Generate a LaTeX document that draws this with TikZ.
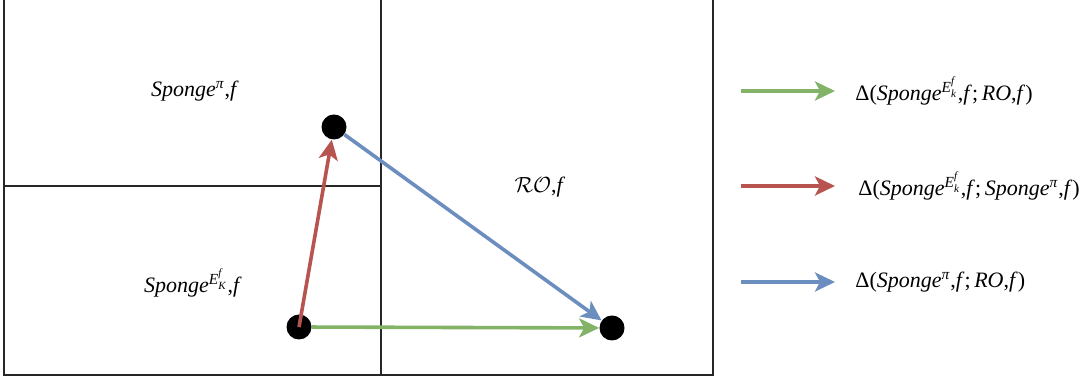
\documentclass[tikz,border=0pt]{standalone}
\usepackage{amsmath}
\usepackage{fontspec}
\setmainfont{Liberation Serif}
\usetikzlibrary{arrows.meta}
\definecolor{agreen}{HTML}{82B366}
\definecolor{ared}{HTML}{B85450}
\definecolor{ablue}{HTML}{6C8EBF}
\newcommand{\spg}{\textit{Sponge}}
\newcommand{\ti}[1]{\text{\itshape #1}}
\newcommand{\supE}[1]{$^{\ti{E}_{\ti{#1}}^{\ti{f}}}$}
\newcommand{\suppi}{$^{\ti{π}}$}
\begin{document}
\begin{tikzpicture}[x=0.5pt,y=-0.5pt,
  frame/.style={draw=black!85,line width=0.6pt},
  dot/.style={circle,fill=black,inner sep=0pt,minimum size=12.5pt},
  arr/.style={line width=1.8pt,-{Stealth[length=10pt,width=9.5pt,inset=2.5pt]}},
  lbl/.style={inner sep=0pt,font=\fontsize{11}{13}\selectfont}]
\useasboundingbox (0,0) rectangle (1081,383);
% frames
\draw[frame] (4,0) -- (4,375) -- (713,375) -- (713,0);
\draw[frame] (381,0) -- (381,375);
\draw[frame] (4,186) -- (381,186);
% region labels
\node[lbl] (l1) at (195,91) {\spg\suppi,\textit{f}};
\node[lbl] (l2) at (193,283) {\spg\supE{K},\textit{f}};
\node[lbl] (l3) at (540,187) {$\mathcal{RO}$,\textit{f}};
% dots
\node[dot] (A) at (299,327) {};
\node[dot] (B) at (334,127) {};
\node[dot] (C) at (612,328) {};
% arrows
\draw[arr,ared] (A.center) -- (B);
\draw[arr,ablue] (B) -- (C);
\draw[arr,agreen] (A) -- (C);
% legend
\coordinate (g1) at (741,91);  \coordinate (g2) at (835,91);
\coordinate (r1) at (741,186); \coordinate (r2) at (835,186);
\coordinate (b1) at (741,282); \coordinate (b2) at (835,282);
\draw[arr,agreen] (g1) -- (g2);
\draw[arr,ared] (r1) -- (r2);
\draw[arr,ablue] (b1) -- (b2);
\node[lbl,anchor=west] (t1) at (855,91) {Δ(\spg\supE{k},\textit{f};\,\textit{RO},\textit{f})};
\node[lbl,anchor=west] (t2) at (858,186) {Δ(\spg\supE{k},\textit{f};\,\spg\suppi,\textit{f})};
\node[lbl,anchor=west] (t3) at (855,282) {Δ(\spg\suppi,\textit{f};\,\textit{RO},\textit{f})};
\end{tikzpicture}
\end{document}
